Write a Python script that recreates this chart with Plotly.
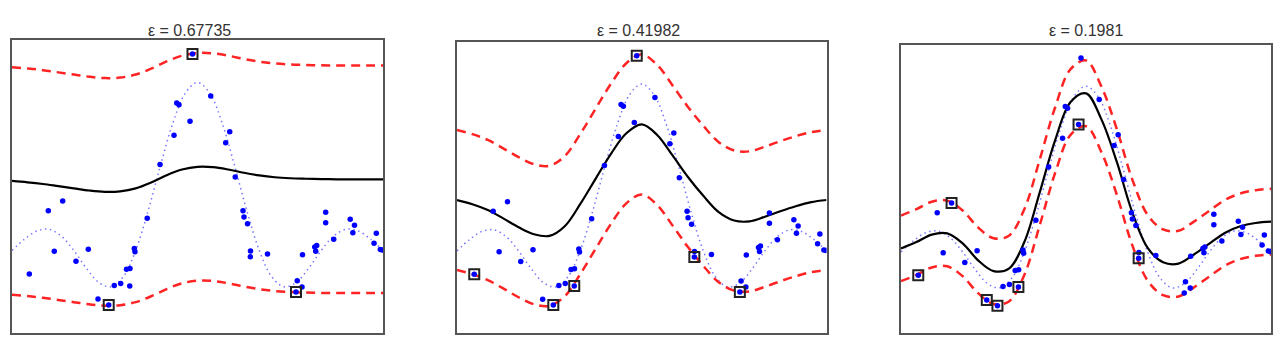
import plotly.graph_objects as go

# ---------------- data ----------------
eps_values = [0.67735, 0.41982, 0.1981]
titles = ["ε = 0.67735", "ε = 0.41982", "ε = 0.1981"]

# noisy samples (same in every panel)
x_pts = [-2.720, -2.413, -2.316, -2.180, -1.965, -1.766, -1.609, -1.436, -1.346, -1.242,
         -1.096, -1.148, -1.092, -1.022, -1.011, -0.813, -0.606, -0.380, -0.336, -0.299,
         -0.121, -0.081, 0.214, 0.456, 0.521, 0.610, 0.736, 0.752, 0.809, 0.857,
         0.854, 1.132, 1.593, 1.613, 1.690, 1.698, 1.896, 1.928, 1.912, 2.073,
         2.073, 2.203, 2.470, 2.539, 2.512, 2.892, 2.855, 2.957, 2.990]
y_pts = [-0.140, 0.237, -0.005, 0.295, -0.064, 0.007, -0.289, -0.324, -0.208, -0.196,
         -0.211, -0.112, -0.107, 0.012, -0.007, 0.192, 0.512, 0.686, 0.878, 0.867,
         0.769, 1.170, 0.920, 0.642, 0.707, 0.438, 0.237, 0.199, 0.160, -0.003,
         -0.037, -0.021, -0.247, -0.180, -0.217, -0.025, 0.021, 0.030, -0.004, 0.227,
         0.165, 0.067, 0.186, 0.150, 0.106, 0.102, 0.043, 0.006, 0.003]

# support vectors (indices into the samples) per panel
sv_indices = [
    [7, 21, 32],
    [0, 7, 10, 21, 30, 32],
    [0, 3, 6, 7, 10, 20, 30],
]

# true function (dotted)
x_true = [-3.0, -2.8, -2.6, -2.4, -2.2, -2.0, -1.8, -1.6, -1.4, -1.2, -1.0, -0.8, -0.6, -0.4, -0.2,
          0.0, 0.2, 0.4, 0.6, 0.8, 1.0, 1.2, 1.4, 1.6, 1.8, 2.0, 2.2, 2.4, 2.6, 2.8, 3.0]
y_true = [0.0, 0.067, 0.116, 0.126, 0.085, 0.0, -0.104, -0.189, -0.216, -0.156, 0.0, 0.234, 0.505, 0.757, 0.935,
          1.0, 0.935, 0.757, 0.505, 0.234, 0.0, -0.156, -0.216, -0.189, -0.104, 0.0, 0.085, 0.126, 0.116, 0.067, 0.0]

# fitted regression curves per panel
x_fit = [-3.0, -2.75, -2.5, -2.25, -2.0, -1.75, -1.5, -1.25, -1.0, -0.75, -0.5, -0.25, 0.0,
         0.25, 0.5, 0.75, 1.0, 1.25, 1.5, 1.75, 2.0, 2.25, 2.5, 2.75, 3.0]
fit_1 = [0.414, 0.406, 0.396, 0.383, 0.370, 0.357, 0.349, 0.352, 0.370, 0.405, 0.448, 0.482, 0.498,
         0.496, 0.482, 0.463, 0.447, 0.436, 0.430, 0.427, 0.425, 0.424, 0.424, 0.424, 0.424]
fit_2 = [0.305, 0.280, 0.245, 0.195, 0.142, 0.100, 0.090, 0.148, 0.280, 0.432, 0.582, 0.705, 0.758,
         0.695, 0.572, 0.443, 0.330, 0.232, 0.182, 0.177, 0.205, 0.238, 0.268, 0.292, 0.305]
fit_3 = [0.022, 0.060, 0.105, 0.112, 0.052, -0.050, -0.115, -0.100, 0.060, 0.360, 0.675, 0.905, 0.957,
         0.800, 0.543, 0.240, 0.025, -0.062, -0.070, -0.015, 0.050, 0.115, 0.155, 0.175, 0.183]
fits = [fit_1, fit_2, fit_3]

# ---------------- layout geometry ----------------
W, H = 1281, 362
boxes = [  # left, right, top, bottom (pixels)
    (12, 383, 40, 333),
    (457, 826.5, 41.5, 333),
    (901, 1271, 45, 333),
]
y_ranges = [[-0.491, 1.253], [-0.492, 1.255], [-0.4885, 1.2485]]
title_x = [189, 638, 1086]

fig = go.Figure()
layout = dict(width=W, height=H, margin=dict(l=0, r=0, t=0, b=0),
              paper_bgcolor="white", plot_bgcolor="white", showlegend=False,
              annotations=[])

for i in range(3):
    sfx = "" if i == 0 else str(i + 1)
    xa, ya = "x" + sfx, "y" + sfx
    eps = eps_values[i]
    fit = fits[i]
    upper = [v + eps for v in fit]
    lower = [v - eps for v in fit]

    fig.add_trace(go.Scatter(x=x_true, y=y_true, mode="lines", xaxis=xa, yaxis=ya,
                             line=dict(color="#7878ff", width=1.5, dash="1.5px,3.5px", shape="spline")))
    fig.add_trace(go.Scatter(x=x_fit, y=fit, mode="lines", xaxis=xa, yaxis=ya,
                             line=dict(color="black", width=2.2, shape="spline")))
    for band in (upper, lower):
        fig.add_trace(go.Scatter(x=x_fit, y=band, mode="lines", xaxis=xa, yaxis=ya,
                                 line=dict(color="rgb(255,35,35)", width=2.5, dash="9px,6px",
                                           shape="spline")))
    fig.add_trace(go.Scatter(x=x_pts, y=y_pts, mode="markers", xaxis=xa, yaxis=ya,
                             marker=dict(color="rgb(0,0,255)", size=5.5)))
    sv = sv_indices[i]
    fig.add_trace(go.Scatter(x=[x_pts[k] for k in sv], y=[y_pts[k] for k in sv], mode="markers",
                             xaxis=xa, yaxis=ya,
                             marker=dict(symbol="square-open", size=10, color="#222",
                                         line=dict(width=2, color="#222"))))

    l, r, t, b = boxes[i]
    axis_common = dict(showgrid=False, zeroline=False, showticklabels=False, ticks="",
                       showline=True, mirror=True, linecolor="#555", linewidth=2)
    layout["xaxis" + sfx] = dict(domain=[l / W, r / W], range=[-3, 3], anchor=ya, **axis_common)
    layout["yaxis" + sfx] = dict(domain=[1 - b / H, 1 - t / H], range=y_ranges[i], anchor=xa,
                                 **axis_common)
    layout["annotations"].append(dict(text=titles[i], x=title_x[i] / W, y=1 - 30 / H,
                                      xref="paper", yref="paper", xanchor="center",
                                      yanchor="middle", showarrow=False,
                                      font=dict(family="Liberation Sans, Arial", size=16,
                                                color="#333")))

fig.update_layout(**layout)
fig.write_html("out.html")
